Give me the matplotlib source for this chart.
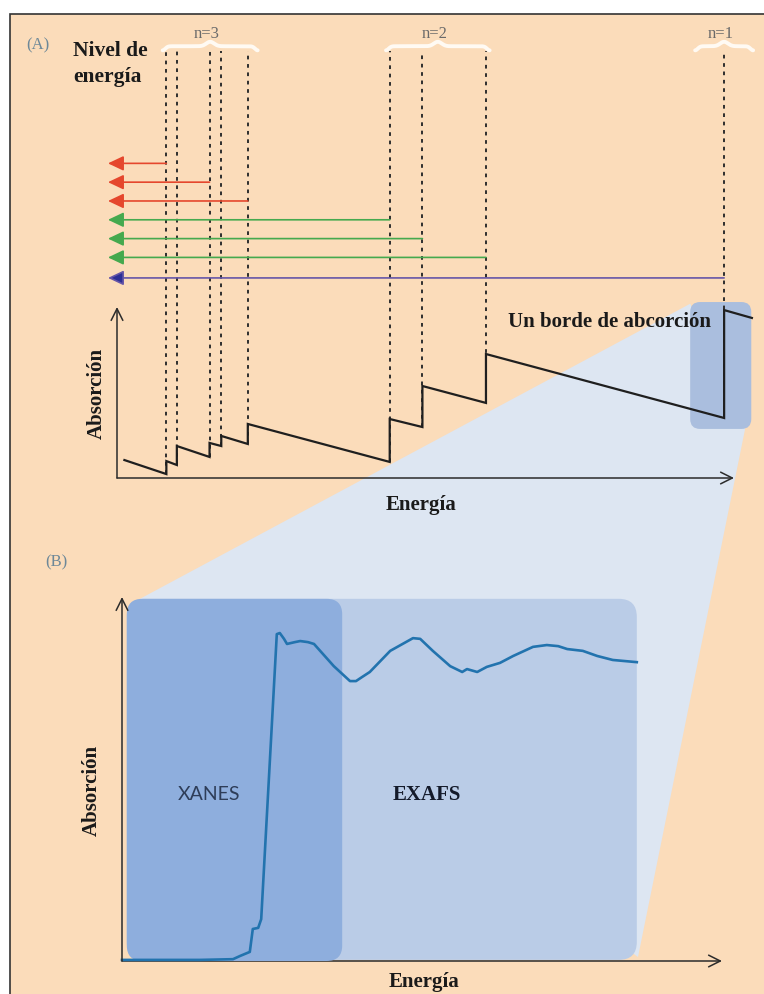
import numpy as np
import matplotlib
matplotlib.use("Agg")
import matplotlib.pyplot as plt
from matplotlib.patches import FancyBboxPatch, Polygon, Rectangle

W, H, DPI = 764, 995, 100

# ---- panel A: schematic absorption spectrum with edges (arbitrary units)
EDGE_E = [8.0, 9.7, 15.0, 16.9, 21.2, 44.2, 49.5, 59.8, 98.4]
EDGE_LOW = [2.3, 7.6, 12.3, 18.7, 19.9, 9.4, 29.8, 43.9, 35.1]
EDGE_HIGH = [9.9, 18.7, 20.5, 24.6, 31.6, 34.5, 53.8, 72.5, 98.2]
CURVE_START = (1.2, 10.5)
CURVE_END = (102.9, 93.6)

SHELLS = ["n=3", "n=2", "n=1"]
SHELL_EDGES = [[0, 1, 2, 3, 4], [5, 6, 7], [8]]
SHELL_COLORS = [("#e5472d", "#e5472d"), ("#45a94e", "#45a94e"), ("#6656a8", "#2d2f96")]

# energy-level arrows: which edge each one starts from, and its level
ARROW_EDGE = [0, 2, 4, 5, 6, 7, 8]
ARROW_LEVEL = [184, 173, 162, 151, 140, 129, 117]

# ---- panel B: XAFS spectrum around one edge
XAFS_E = [0, 4.7, 13.0, 18.5, 19.7, 21.3, 21.8, 22.7, 23.2, 25.8, 26.3, 27.0, 27.5,
          28.8, 29.7, 31.0, 32.0, 35.3, 38.0, 39.0, 40.0, 41.3, 44.7, 48.5, 49.7,
          51.8, 54.7, 56.7, 57.5, 59.2, 60.8, 63.0, 65.2, 68.5, 70.8, 72.7, 74.2,
          76.8, 79.2, 81.8, 85.8]
XAFS_MU = [0.3, 0.3, 0.3, 0.5, 1.4, 2.5, 8.8, 9.1, 11.5, 89.8, 90.1, 88.5, 87.1,
           87.6, 87.9, 87.6, 87.1, 81.0, 76.9, 76.9, 78.0, 79.4, 85.2, 88.7, 88.5,
           85.2, 81.0, 79.4, 80.2, 79.4, 80.8, 81.9, 83.8, 86.3, 86.8, 86.5, 85.7,
           85.2, 83.8, 82.7, 82.1]
XANES_SPAN = (0.8, 36.7)
EXAFS_SPAN = (0.8, 85.8)
REGION_TOP = 99.5

PEACH = "#fbdcba"
WEDGE = "#dde6f2"
HILITE = "#aabede"
XANES_C = "#8eaedd"
EXAFS_C = "#bacce7"
INK = "#2b2b2b"

SERIF = "Liberation Serif"


def px(x, y):
    return x / W, 1 - y / H


def label(x, y, s, **kw):
    kw.setdefault("ha", "center")
    kw.setdefault("va", "center")
    kw.setdefault("family", SERIF)
    fig.text(*px(x, y), s, **kw)


def axis_arrow(ax, p, q, lw=1.1, zorder=5):
    ax.annotate("", xy=q, xytext=p,
                arrowprops=dict(arrowstyle="->,head_length=0.7,head_width=0.35",
                                mutation_scale=12, color=INK, lw=lw,
                                shrinkA=0, shrinkB=0),
                zorder=zorder)


def brace(ax, x0, x1, y, color="#fffaf3"):
    xs = np.linspace(x0, x1, 300)
    xm = 0.5 * (x0 + x1)
    ys = (y + 2.6 * np.exp(-((xs - xm) / 0.9) ** 2)
          - 2.4 * np.exp(-((xs - x0) / 0.6) ** 2)
          - 2.4 * np.exp(-((xs - x1) / 0.6) ** 2))
    ax.plot(xs, ys, color=color, lw=2.8, solid_capstyle="round", zorder=3)


fig = plt.figure(figsize=(W / DPI, H / DPI), dpi=DPI)
fig.patch.set_facecolor("white")

ax_bg = fig.add_axes([0, 0, 1, 1])
ax_bg.set_xlim(0, W)
ax_bg.set_ylim(H, 0)
ax_bg.axis("off")
ax_bg.add_patch(Rectangle((10, 15), W, H, facecolor=PEACH, edgecolor="#333333", lw=1.2))

# panel A axes: 6.17 px per energy unit, 1.71 px per absorption unit
ax_a = fig.add_axes([0, 0, 1, 1])
ax_a.set_xlim(-117 / 6.17, (W - 117) / 6.17)
ax_a.set_ylim((479 - H) / 1.71, 479 / 1.71)
ax_a.axis("off")

# panel B axes: 6.0 px per energy unit, 3.64 px per absorption unit
ax_b = fig.add_axes([0, 0, 1, 1])
ax_b.set_xlim(-122 / 6.0, (W - 122) / 6.0)
ax_b.set_ylim((962 - H) / 3.64, 962 / 3.64)
ax_b.axis("off")

# highlighted edge in A and the zoom wedge down to B
hx0, hx1 = EDGE_E[-1] - 5.5, EDGE_E[-1] + 4.4
hy0, hy1 = 28.7, 102.9
ax_a.add_patch(FancyBboxPatch((hx0, hy0), hx1 - hx0, hy1 - hy0,
                              boxstyle="round,pad=0,rounding_size=1.6",
                              mutation_aspect=6.17 / 1.71,
                              facecolor=HILITE, edgecolor="none", zorder=2))
b_corners = ax_a.transData.inverted().transform(
    ax_b.transData.transform([(EXAFS_SPAN[1] + 0.2, 1.1), (XANES_SPAN[0] + 2.2, REGION_TOP)]))
wedge = [(hx0, hy1 - 1), (hx1 - 1.0, hy0), tuple(b_corners[0]), tuple(b_corners[1])]
ax_a.add_patch(Polygon(wedge, closed=True, facecolor=WEDGE, edgecolor="none", zorder=1))

# sawtooth absorption curve
cx = [CURVE_START[0]]
cy = [CURVE_START[1]]
for e, lo, hi in zip(EDGE_E, EDGE_LOW, EDGE_HIGH):
    cx += [e, e]
    cy += [lo, hi]
cx.append(CURVE_END[0])
cy.append(CURVE_END[1])
ax_a.plot(cx, cy, color="#1f1f1f", lw=1.6, zorder=6, solid_joinstyle="miter")

# dashed edge markers up to the shell braces
dash_top = 249.7
for e, lo in zip(EDGE_E, EDGE_LOW):
    ax_a.plot([e, e], [lo, dash_top], color="#2e2e2e", lw=1.4,
              linestyle=(0, (1.9, 2.4)), zorder=4)

for name, idx in zip(SHELLS, SHELL_EDGES):
    es = [EDGE_E[i] for i in idx]
    pad = 4.7 if len(es) == 1 else 0.6
    x0, x1 = min(es) - pad, max(es) + pad + (1.0 if len(es) > 3 else 0)
    brace(ax_a, x0, x1, 252.5)
    ax_a.text(0.5 * (x0 + x1) - 0.6, 260.5, name, ha="center", va="center",
              family=SERIF, fontsize=12, color="#6a6a6a")

# energy-level arrows
edge_shell = {i: s for s, idx in enumerate(SHELL_EDGES) for i in idx}
arrow_tip = -1.46
for i, level in zip(ARROW_EDGE, ARROW_LEVEL):
    ec, fc = SHELL_COLORS[edge_shell[i]]
    ax_a.annotate("", xy=(arrow_tip, level), xytext=(EDGE_E[i], level),
                  arrowprops=dict(arrowstyle="-|>,head_length=0.95,head_width=0.45",
                                  mutation_scale=10, ec=ec, fc=fc, lw=1.2,
                                  shrinkA=0, shrinkB=0),
                  zorder=5)

axis_arrow(ax_a, (0, 0), (0, 100))
axis_arrow(ax_a, (0, 0), (100, 0))

# panel B: regions, axes and spectrum
axis_arrow(ax_b, (0, 0), (100, 0), zorder=1)
ax_b.add_patch(FancyBboxPatch((EXAFS_SPAN[0], 0.3), EXAFS_SPAN[1] - EXAFS_SPAN[0], REGION_TOP - 0.3,
                              boxstyle="round,pad=0,rounding_size=3.0",
                              mutation_aspect=6.0 / 3.64,
                              facecolor=EXAFS_C, edgecolor="none", zorder=2))
ax_b.add_patch(FancyBboxPatch((XANES_SPAN[0], 0), XANES_SPAN[1] - XANES_SPAN[0], REGION_TOP,
                              boxstyle="round,pad=0,rounding_size=2.6",
                              mutation_aspect=6.0 / 3.64,
                              facecolor=XANES_C, edgecolor="none", zorder=2.5))
ax_b.plot(XAFS_E, XAFS_MU, color="#2273ae", lw=1.9, zorder=4, solid_joinstyle="round")
axis_arrow(ax_b, (0, 0), (0, 100), zorder=5)

# text
label(38, 45, "(A)", fontsize=12, color="#6d8898")
label(73, 51, "Nivel de", ha="left", fontsize=15.5, fontweight="bold", color="#1a1a1a")
label(73, 77, "energía", ha="left", fontsize=15.5, fontweight="bold", color="#1a1a1a")
label(97, 393, "Absorción", rotation=90, fontsize=15, fontweight="bold", color="#1a1a1a")
label(421, 505, "Energía", fontsize=15, fontweight="bold", color="#1a1a1a")
label(609, 322, "Un borde de abcorción", fontsize=15, fontweight="bold", color="#1a1a1a")

label(56, 562, "(B)", fontsize=12, color="#6d8898")
label(92, 790, "Absorción", rotation=90, fontsize=15, fontweight="bold", color="#1a1a1a")
label(209, 795, "XANES", fontsize=14, color="#2e3d58", family="Lato")
label(427, 795, "EXAFS", fontsize=15, fontweight="bold", color="#141a2a")
label(424, 982, "Energía", fontsize=15, fontweight="bold", color="#1a1a1a")

fig.savefig("out.png", dpi=DPI)
